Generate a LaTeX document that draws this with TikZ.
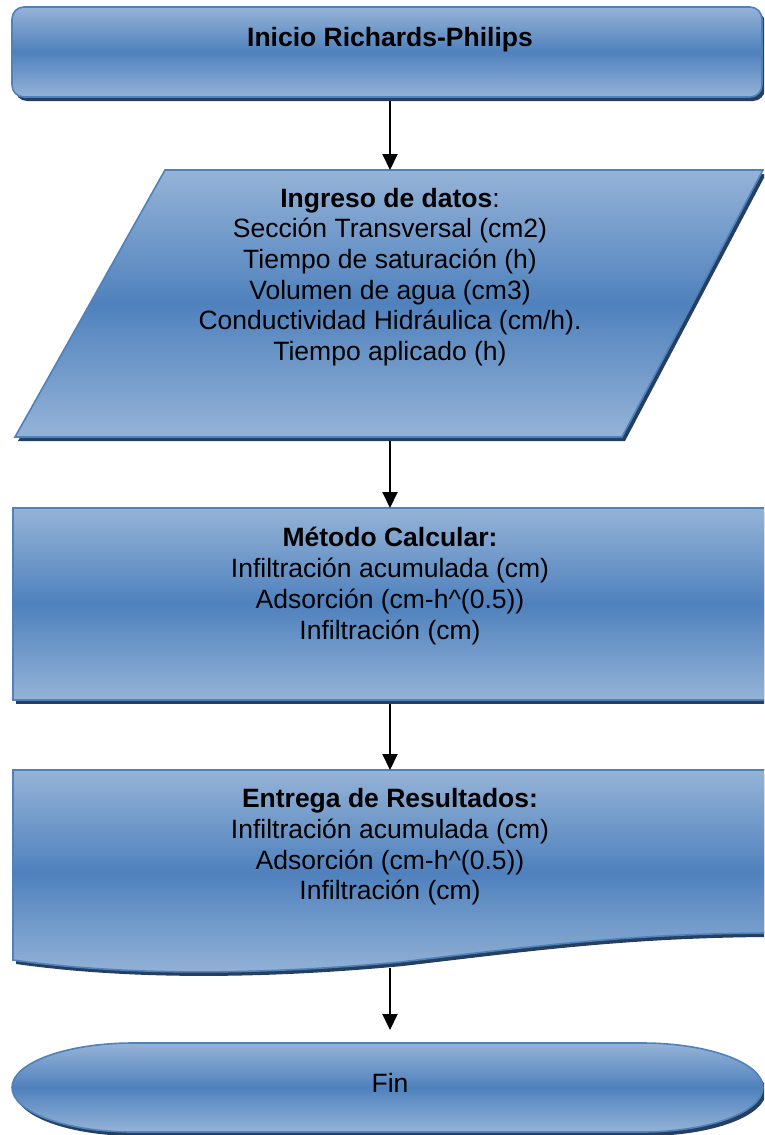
\documentclass[tikz,border=0pt]{standalone}
\usepackage{fontspec}
\setmainfont{Liberation Sans}
\usetikzlibrary{arrows.meta,shadows}

\definecolor{boxlight}{RGB}{149,179,215}
\definecolor{boxdark}{RGB}{79,129,189}
\definecolor{boxedge}{RGB}{79,129,189}
\definecolor{boxshadow}{RGB}{36,63,96}

\tikzset{
  flowshape/.style={draw=boxedge, line width=1.6pt,
    top color=boxlight, bottom color=boxlight, middle color=boxdark,
    drop shadow={shadow xshift=3pt, shadow yshift=-4pt, fill=boxshadow, opacity=1}},
  boxtext/.style={font=\fontsize{26.5}{30.7}\selectfont, align=center, inner sep=0pt},
  flow/.style={line width=2pt, -{Triangle[length=16pt,width=15pt]}},
}

\begin{document}
\begin{tikzpicture}[x=1pt,y=-1pt]
\useasboundingbox (0,0) rectangle (764,1135);
\clip (0,0) rectangle (764,1135);

% start box
\path[flowshape, rounded corners=12pt] (12,7) rectangle (762,97);
\node[boxtext] (inicio) at (390,40) {\textbf{Inicio Richards-Philips}};

% data input (parallelogram)
\path[flowshape] (165,170) -- (763,170) -- (622,437) -- (15,437) -- cycle;
\node[boxtext] (datos) at (390,277) {\textbf{Ingreso de datos}:\\
  Sección Transversal (cm2)\\
  Tiempo de saturación (h)\\
  Volumen de agua (cm3)\\
  Conductividad Hidráulica (cm/h).\\
  Tiempo aplicado (h)};

% process box
\path[flowshape] (13,508) rectangle (775,700);
\node[boxtext] (metodo) at (390,586) {\textbf{Método Calcular:}\\
  Infiltración acumulada (cm)\\
  Adsorción (cm-h\^{}(0.5))\\
  Infiltración (cm)};

% output document
\path[flowshape] (13,770) -- (775,770) -- (775,933) -- (764,933)
  .. controls (620,934) and (520,948) .. (400,962)
  .. controls (250,976) and (120,975) .. (13,960) -- cycle;
\node[boxtext] (entrega) at (390,847) {\textbf{Entrega de Resultados:}\\
  Infiltración acumulada (cm)\\
  Adsorción (cm-h\^{}(0.5))\\
  Infiltración (cm)};

% terminator
\path[flowshape] (133,1043) -- (642,1043)
  arc[start angle=90, end angle=-90, x radius=121pt, y radius=44.5pt]
  -- (133,1132)
  arc[start angle=270, end angle=90, x radius=121pt, y radius=44.5pt] -- cycle;
\node[boxtext] (fin) at (390,1083) {Fin};

% connector end points on the shape outlines
\coordinate (inicio-out) at (390,101);
\coordinate (datos-in)   at (390,170);
\coordinate (datos-out)  at (390,441);
\coordinate (metodo-in)  at (390,508);
\coordinate (metodo-out) at (390,704);
\coordinate (entrega-in) at (390,770);
\coordinate (entrega-out) at (390,968);
\coordinate (fin-in)     at (390,1030);

\draw[flow] (inicio-out) -- (datos-in);
\draw[flow] (datos-out) -- (metodo-in);
\draw[flow] (metodo-out) -- (entrega-in);
\draw[flow] (entrega-out) -- (fin-in);
\end{tikzpicture}
\end{document}
